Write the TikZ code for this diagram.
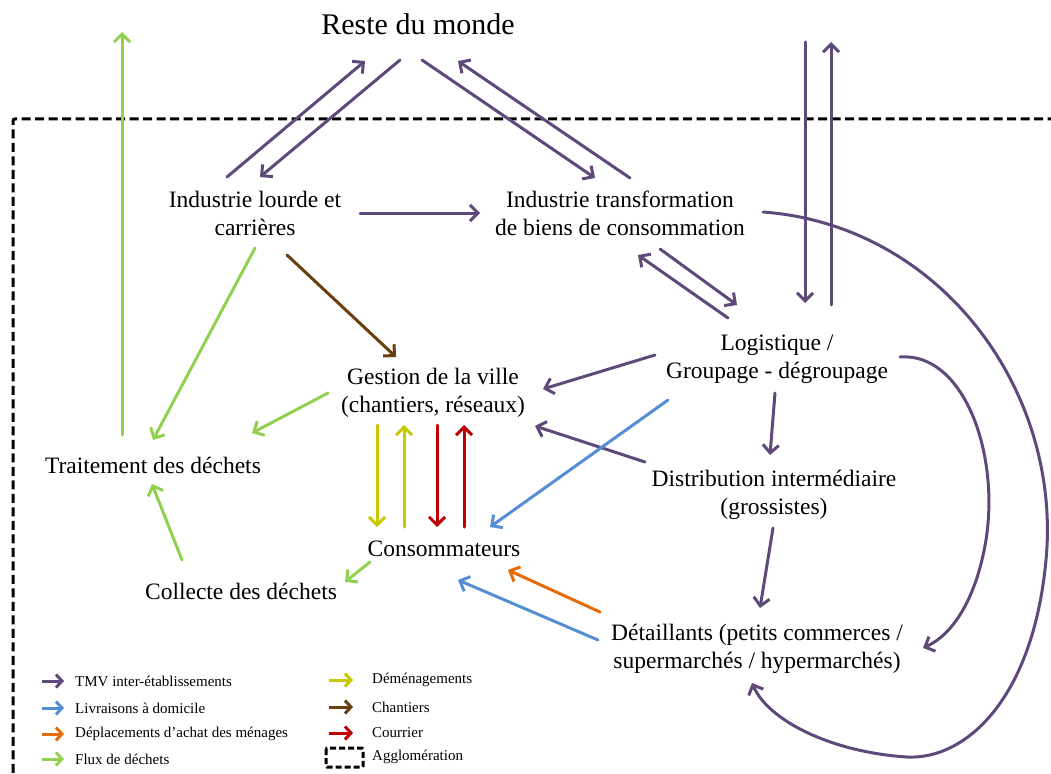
\documentclass[tikz,border=0pt]{standalone}
\usepackage{fontspec}
\setmainfont{Liberation Serif}
\usetikzlibrary{arrows.meta,calc}
\definecolor{tmv}{HTML}{5F497A}
\definecolor{livr}{HTML}{558ED5}
\definecolor{achat}{HTML}{E46C0A}
\definecolor{dechet}{HTML}{92D050}
\definecolor{demen}{HTML}{C8C800}
\definecolor{chant}{HTML}{6B3E12}
\definecolor{courr}{HTML}{C00000}
\begin{document}
\begin{tikzpicture}[x=1pt,y=-1pt,
  lbl/.style={align=center, inner sep=0pt, font=\fontsize{23.5}{28}\selectfont},
  leg/.style={anchor=west, inner sep=0pt, font=\fontsize{15}{16}\selectfont},
  flow/.style={line width=3pt, line cap=round, -{Straight Barb[length=8pt,width=16pt]}},
  ftmv/.style={flow, draw=tmv},
  flivr/.style={flow, draw=livr},
  fachat/.style={flow, draw=achat},
  fdechet/.style={flow, draw=dechet},
  fdemen/.style={flow, draw=demen},
  fchant/.style={flow, draw=chant},
  fcourr/.style={flow, draw=courr},
  aggl/.style={draw=black, line width=3pt, dash pattern=on 9pt off 4.5pt}
]
\useasboundingbox (0,0) rectangle (1051,773);
\begin{scope}
\clip (0,0) rectangle (1051,773);
\draw[aggl, rounded corners=2pt] (1070,119) -- (13,119) -- (13,790);
\end{scope}

% nodes
\node[lbl, font=\fontsize{30}{34}\selectfont] (rdm) at (418,24) {Reste du monde};
\node[lbl] (il) at (255,213) {Industrie lourde et\\carrières};
\node[lbl] (it) at (620,213) {Industrie transformation\\de biens de consommation};
\node[lbl] (lg) at (777,359) {Logistique /\\Groupage - dégroupage};
\node[lbl] (gv) at (433,393) {Gestion de la ville\\(chantiers, réseaux)};
\node[lbl] (td) at (153,465) {Traitement des déchets};
\node[lbl] (di) at (774,495) {Distribution intermédiaire\\(grossistes)};
\node[lbl] (co) at (444,549) {Consommateurs};
\node[lbl] (cd) at (241,591) {Collecte des déchets};
\node[lbl] (de) at (757,649) {Détaillants (petits commerces /\\supermarchés / hypermarchés)};

\coordinate (extA) at (805,42);
\coordinate (extB) at (831,42);
\coordinate (extC) at (122,32);

% TMV
\draw[ftmv] ($(il)+(-28,-36)$) -- ($(rdm)+(-53,37)$);
\draw[ftmv] ($(rdm)+(-18,36)$) -- ($(il)+(5,-36)$);
\draw[ftmv] ($(rdm)+(4,36)$) -- ($(it)+(-25,-35)$);
\draw[ftmv] ($(it)+(10,-35)$) -- ($(rdm)+(40,37)$);
\draw[ftmv] ($(il)+(105,0)$) -- ($(it)+(-140,0)$);
\draw[ftmv] ($(it)+(40,36)$) -- ($(lg)+(-40,-54)$);
\draw[ftmv] ($(lg)+(-49,-41)$) -- ($(it)+(18,42)$);
\draw[ftmv] (extA) -- ($(lg)+(28,-56)$);
\draw[ftmv] ($(lg)+(54,-54)$) -- (extB);
\draw[ftmv] ($(it)+(143,-1)$) .. controls (940,225) and (1062,390) .. (1046,560)
   .. controls (1033,700) and (965,760) .. (907,757)
   .. controls (830,752) and (768,720) .. ($(de)+(-5,34)$);
\draw[ftmv] ($(lg)+(123,-2)$) .. controls (962,352) and (1000,450) .. (986,540)
   .. controls (976,600) and (952,635) .. ($(de)+(166,-1)$);
\draw[ftmv] ($(lg)+(-122,-4)$) -- ($(gv)+(110,-4)$);
\draw[ftmv] ($(lg)+(-2,34)$) -- ($(di)+(-4,-40)$);
\draw[ftmv] ($(di)+(-129,-33)$) -- ($(gv)+(102,33)$);
\draw[ftmv] ($(di)+(-1,33)$) -- ($(de)+(3,-41)$);

% Livraisons
\draw[flivr] ($(lg)+(-109,41)$) -- ($(co)+(46,-22)$);
\draw[flivr] ($(de)+(-159,-9)$) -- ($(co)+(14,31)$);
% Achat
\draw[fachat] ($(de)+(-157,-37)$) -- ($(co)+(64,21)$);
% Chantiers
\draw[fchant] ($(il)+(32,42)$) -- ($(gv)+(-37,-36)$);
% Dechets
\draw[fdechet] ($(il)+(0,35)$) -- ($(td)+(0,-25)$);
\draw[fdechet] ($(gv)+(-105,0)$) -- ($(td)+(99,-32)$);
\draw[fdechet] ($(td)+(-31,-30)$) -- (extC);
\draw[fdechet] ($(cd)+(-59,-31)$) -- ($(td)+(-1,19)$);
\draw[fdechet] ($(co)+(-74,13)$) -- ($(cd)+(104,-9)$);
% Demenagements / Courrier
\draw[fdemen] ($(gv)+(-56,32)$) -- ($(co)+(-67,-22)$);
\draw[fdemen] ($(co)+(-40,-22)$) -- ($(gv)+(-29,32)$);
\draw[fcourr] ($(gv)+(4,32)$) -- ($(co)+(-7,-22)$);
\draw[fcourr] ($(co)+(20,-22)$) -- ($(gv)+(31,32)$);

% Legend
\node[leg] (l1) at (75,681) {TMV inter-établissements};
\node[leg] (l2) at (75,708) {Livraisons à domicile};
\node[leg] (l3) at (75,734) {Déplacements d'achat des ménages};
\node[leg] (l4) at (75,759) {Flux de déchets};
\node[leg] (r1) at (372,680) {Déménagements};
\node[leg] (r2) at (372,707) {Chantiers};
\node[leg] (r3) at (372,733) {Courrier};
\node[leg] (r4) at (372,757) {Agglomération};
\coordinate (a1) at (42,681); \coordinate (a2) at (42,708);
\coordinate (a3) at (42,734); \coordinate (a4) at (42,759);
\coordinate (b1) at (329,680); \coordinate (b2) at (329,707);
\coordinate (b3) at (329,733);
\tikzset{legar/.style={line width=3pt, -{Straight Barb[length=6pt,width=13pt]}}}
\draw[legar, draw=tmv] (a1) -- ($(l1.west)+(-11,0)$);
\draw[legar, draw=livr] (a2) -- ($(l2.west)+(-11,0)$);
\draw[legar, draw=achat] (a3) -- ($(l3.west)+(-11,0)$);
\draw[legar, draw=dechet] (a4) -- ($(l4.west)+(-11,0)$);
\draw[legar, draw=demen] (b1) -- ($(r1.west)+(-19,0)$);
\draw[legar, draw=chant] (b2) -- ($(r2.west)+(-19,0)$);
\draw[legar, draw=courr] (b3) -- ($(r3.west)+(-19,0)$);
\draw[draw=black, line width=3pt, dash pattern=on 6pt off 3pt, rounded corners=1pt]
  ($(r4.west)+(-46,-9)$) rectangle ($(r4.west)+(-9,10)$);
\end{tikzpicture}
\end{document}
